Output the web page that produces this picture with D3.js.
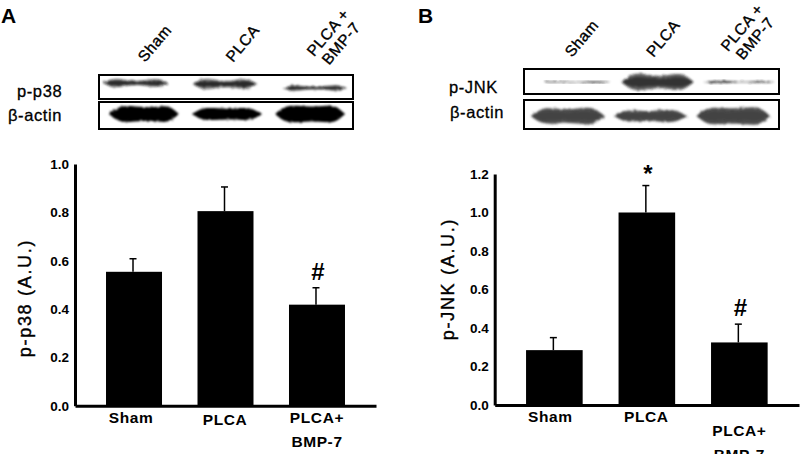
<!DOCTYPE html>
<html>
<head>
<meta charset="utf-8">
<script src="https://cdn.jsdelivr.net/npm/d3@7"></script>
<style>
  html, body { margin: 0; padding: 0; background: #fff; }
  svg { display: block; }
  text { font-family: "Liberation Sans", Arial, sans-serif; fill: #000; }
</style>
</head>
<body>
<svg id="chart" width="800" height="454"></svg>
<script>
// values
const groups = ["Sham", "PLCA", "PLCA+ BMP-7"];
const blotLanes = ["Sham", "PLCA", "PLCA + BMP-7"];

const p38Ticks = [0, 0.2, 0.4, 0.6, 0.8, 1.0];
const p38Means = [0.554, 0.805, 0.418];
const p38Upper = [0.608, 0.905, 0.488];
const p38Marks = ["", "", "#"];

const jnkTicks = [0, 0.2, 0.4, 0.6, 0.8, 1.0, 1.2];
const jnkMeans = [0.285, 1.0, 0.325];
const jnkUpper = [0.35, 1.14, 0.42];
const jnkMarks = ["", "*", "#"];

// band density along each lane, 0 to 1
const p38Bands = [
  [0, 0.75, 0.8, 0.5, 0.4, 0.45, 0.7, 0.8, 0],
  [0, 0.95, 1.0, 0.7, 0.6, 0.65, 0.95, 0.95, 0],
  [0, 0.55, 0.5, 0.3, 0.25, 0.3, 0.45, 0.55, 0]
];
const p38Actin = [
  [0, 0.85, 0.95, 0.9, 0.8, 0.8, 0.95, 0.9, 0],
  [0, 0.65, 0.72, 0.68, 0.62, 0.65, 0.72, 0.62, 0],
  [0, 0.9, 1.0, 0.95, 0.85, 0.9, 1.0, 0.95, 0]
];
const jnkBands = [
  [0, 0.05, 0.08, 0.04, 0.02, 0.04, 0.1, 0.05, 0],
  [0, 0.9, 1.0, 0.85, 0.7, 0.75, 1.0, 0.9, 0],
  [0, 0.12, 0.2, 0.1, 0.03, 0.03, 0.08, 0.12, 0]
];
const jnkActin = [
  [0, 0.75, 0.85, 0.75, 0.7, 0.8, 0.9, 0.8, 0],
  [0, 0.55, 0.6, 0.55, 0.5, 0.6, 0.68, 0.55, 0],
  [0, 0.8, 0.9, 0.85, 0.8, 0.85, 0.95, 0.85, 0]
];

const svg = d3.select("#chart");

// rough edges and soft look of the scanned film
const defs = svg.append("defs");
const blur = defs.append("filter").attr("id", "film")
  .attr("x", "-10%").attr("y", "-40%").attr("width", "120%").attr("height", "180%");
blur.append("feTurbulence").attr("type", "fractalNoise").attr("baseFrequency", "0.35")
  .attr("numOctaves", 2).attr("seed", 4).attr("result", "noise");
blur.append("feDisplacementMap").attr("in", "SourceGraphic").attr("in2", "noise")
  .attr("scale", 3).attr("result", "rough");
blur.append("feGaussianBlur").attr("in", "rough").attr("stdDeviation", 0.9);

function drawBlot(b) {
  const g = svg.append("g");
  const lane = d3.scaleBand().domain(blotLanes).range(b.laneRange).paddingInner(b.lanePad);
  const along = d3.scaleLinear().domain([0, b.bands[0].length - 1]).range([0, lane.bandwidth()]);
  const thick = d3.scaleLinear().domain([0, 1]).range([0, b.thickness]);

  blotLanes.forEach((name, i) => {
    const cy = b.cy + (b.laneDy ? b.laneDy[i] : 0);
    const area = k => d3.area().curve(d3.curveBasis)
      .x((d, j) => lane(name) + along(j))
      .y0(d => cy - thick(d) * k / 2)
      .y1(d => cy + thick(d) * k / 2);
    const lg = g.append("g").attr("filter", "url(#film)");
    lg.append("path").datum(b.bands[i]).attr("d", area(1))
      .attr("fill", b.color).attr("opacity", b.outer);
    lg.append("path").datum(b.bands[i]).attr("d", area(0.6))
      .attr("fill", b.color).attr("opacity", b.inner);
  });

  g.append("rect")
    .attr("x", b.box[0]).attr("y", b.box[1])
    .attr("width", b.box[2] - b.box[0]).attr("height", b.box[3] - b.box[1])
    .attr("fill", "none").attr("stroke", "#000").attr("stroke-width", 2);

  svg.append("text").attr("x", b.labelX).attr("y", b.labelY)
    .attr("font-size", 16.5).attr("letter-spacing", 0.6)
    .attr("stroke", "#000").attr("stroke-width", 0.3)
    .text(b.label);
}

function drawHeaders(h) {
  const x = d3.scalePoint().domain(blotLanes).range(h.range);
  const g = svg.append("g").attr("font-size", 15.5).attr("letter-spacing", 0.5);
  blotLanes.forEach(name => {
    const t = g.append("text")
      .attr("transform", `translate(${x(name)},${h.y}) rotate(-50)`)
      .attr("stroke", "#000").attr("stroke-width", 0.35);
    if (name.includes("BMP")) {
      t.append("tspan").attr("x", 0).attr("y", -9).text("PLCA +");
      t.append("tspan").attr("x", 3).attr("y", 8).text("BMP-7");
    } else {
      t.text(name);
    }
  });
}

function drawChart(c) {
  const x = d3.scaleBand().domain(groups).range(c.xRange)
    .paddingInner(0.388).paddingOuter(0.339);
  const y = d3.scaleLinear().domain(c.yDomain).range(c.yRange);
  const g = svg.append("g");

  // bars
  g.selectAll(".bar").data(groups).join("rect")
    .attr("class", "bar")
    .attr("x", d => x(d))
    .attr("width", x.bandwidth())
    .attr("y", (d, i) => y(c.means[i]))
    .attr("height", (d, i) => y(0) - y(c.means[i]))
    .attr("fill", "#000");

  // error bars, upper side only
  g.selectAll(".err").data(groups).join("line")
    .attr("class", "err")
    .attr("x1", d => x(d) + x.bandwidth() / 2 - 1)
    .attr("x2", d => x(d) + x.bandwidth() / 2 - 1)
    .attr("y1", (d, i) => y(c.means[i]))
    .attr("y2", (d, i) => y(c.upper[i]))
    .attr("stroke", "#000").attr("stroke-width", 1.5);
  g.selectAll(".cap").data(groups).join("line")
    .attr("class", "cap")
    .attr("x1", d => x(d) + x.bandwidth() / 2 - 4.5)
    .attr("x2", d => x(d) + x.bandwidth() / 2 + 2.5)
    .attr("y1", (d, i) => y(c.upper[i]))
    .attr("y2", (d, i) => y(c.upper[i]))
    .attr("stroke", "#000").attr("stroke-width", 1.5);

  // significance marks
  g.selectAll(".mark").data(groups).join("text")
    .attr("class", "mark")
    .attr("x", d => x(d) + x.bandwidth() / 2 + 1)
    .attr("y", (d, i) => y(c.upper[i]) + (c.marks[i] === "*" ? -4 : -8))
    .attr("text-anchor", "middle")
    .attr("font-size", d => 24)
    .attr("font-weight", "bold")
    .text((d, i) => c.marks[i]);

  // axes
  const yAxis = g.append("g")
    .attr("transform", `translate(${c.xRange[0]},0)`)
    .call(d3.axisLeft(y).tickValues(c.ticks).tickFormat(d3.format(".1f")).tickSize(0).tickPadding(6));
  yAxis.select(".domain").attr("stroke", "#000").attr("stroke-width", 3);
  yAxis.selectAll("text")
    .attr("font-family", '"Liberation Sans", Arial, sans-serif')
    .attr("font-size", 13.5).attr("font-weight", "bold").attr("fill", "#000");

  const xAxis = g.append("g")
    .attr("transform", `translate(0,${c.yRange[0]})`)
    .call(d3.axisBottom(x).tickSize(0).tickPadding(5));
  xAxis.select(".domain").attr("stroke", "#000").attr("stroke-width", 3);
  xAxis.selectAll(".tick text")
    .attr("font-family", '"Liberation Sans", Arial, sans-serif')
    .attr("font-size", 15.5).attr("font-weight", "bold").attr("fill", "#000")
    .attr("letter-spacing", 0.6)
    .each(function (d, i) {
      const t = d3.select(this);
      t.text(null).attr("y", c.labelY[i]).attr("dy", 0).attr("x", c.labelDx[i]);
      if (d.includes("BMP")) {
        t.append("tspan").attr("x", c.labelDx[i]).attr("y", c.labelY[i]).text("PLCA+");
        t.append("tspan").attr("x", c.labelDx[i]).attr("y", c.labelY[i] + 24).text("BMP-7");
      } else {
        t.text(d);
      }
    });

  svg.append("text")
    .attr("transform", `translate(${c.titleX},${c.titleY}) rotate(-90)`)
    .attr("text-anchor", "middle")
    .attr("font-size", 18).attr("letter-spacing", 1.7)
    .attr("stroke", "#000").attr("stroke-width", 0.4)
    .text(c.title);

  svg.append("text").attr("x", c.letterX).attr("y", 23)
    .attr("font-size", 21).attr("font-weight", "bold")
    .text(c.letter);
}

drawHeaders({ range: [145, 321], y: 63 });
drawHeaders({ range: [572, 735], y: 58 });

drawBlot({ label: "p-p38", labelX: 17, labelY: 97, box: [99, 75, 353, 99], bands: p38Bands,
  laneRange: [103, 347], lanePad: 0.28, cy: 83, laneDy: [0, 1, 5], thickness: 11,
  color: "#111", outer: 0.55, inner: 0.75 });
drawBlot({ label: "β-actin", labelX: 8, labelY: 121, box: [99, 102, 353, 129], bands: p38Actin,
  laneRange: [109, 345], lanePad: 0.16, cy: 114, thickness: 17,
  color: "#000", outer: 1, inner: 1 });
drawBlot({ label: "p-JNK", labelX: 449, labelY: 93, box: [524, 69, 779, 94], bands: jnkBands,
  laneRange: [540, 775], lanePad: 0.11, cy: 82, thickness: 17,
  color: "#1a1a1a", outer: 0.7, inner: 0.6 });
drawBlot({ label: "β-actin", labelX: 450, labelY: 118, box: [524, 100, 779, 129], bands: jnkActin,
  laneRange: [531, 770], lanePad: 0.11, cy: 116, thickness: 19,
  color: "#333", outer: 0.85, inner: 0.5 });

drawChart({ letter: "A", letterX: 1, title: "p-p38 (A.U.)", titleX: 31, titleY: 298,
  means: p38Means, upper: p38Upper, marks: p38Marks, ticks: p38Ticks,
  xRange: [75, 376], yDomain: [0, 1], yRange: [405.7, 164],
  labelY: [17, 19, 17], labelDx: [-3, -0.5, 0] });
drawChart({ letter: "B", letterX: 418, title: "p-JNK (A.U.)", titleX: 454, titleY: 279,
  means: jnkMeans, upper: jnkUpper, marks: jnkMarks, ticks: jnkTicks,
  xRange: [494.7, 799], yDomain: [0, 1.2], yRange: [405, 174],
  labelY: [17, 17, 31], labelDx: [-4, -0.5, 0] });
</script>
</body>
</html>
